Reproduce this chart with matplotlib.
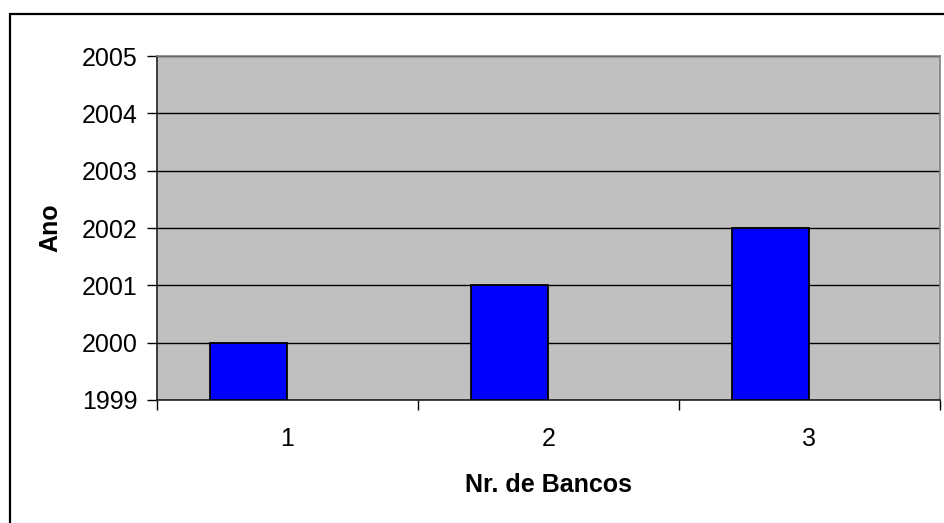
import matplotlib
matplotlib.use("Agg")
import matplotlib.pyplot as plt
from matplotlib.patches import Rectangle
import numpy as np

# data
bancos = [1, 2, 3]
anos = [2000, 2001, 2002]
y_ticks = [1999, 2000, 2001, 2002, 2003, 2004, 2005]

plt.rcParams['font.family'] = ['Liberation Sans', 'DejaVu Sans']

fig = plt.figure(figsize=(9.45, 5.23), dpi=100)
ax = fig.add_axes([0.1661, 0.2352, 0.8286, 0.6577])
ax.set_facecolor('#C0C0C0')

x = np.array(bancos, dtype=float)
# bars sit left of the category centre (right edge on the centre)
ax.bar(x, np.array(anos) - 1999, bottom=1999, width=-0.295, align='edge',
       color='#0000FF', edgecolor='black', linewidth=1.3, zorder=3)

ax.set_xlim(0.5, 3.5)
ax.set_ylim(1999, 2005)
ax.set_yticks(y_ticks)
ax.yaxis.grid(True, color='black', linewidth=1.0, zorder=1)
ax.set_axisbelow(True)

# tick marks on category boundaries, labels at centres
ax.set_xticks([0.5, 1.5, 2.5, 3.5])
ax.set_xticklabels([])
ax.set_xticks(x, minor=True)
ax.set_xticklabels([str(b) for b in bancos], minor=True)
ax.tick_params(axis='x', which='major', length=7, width=1, color='black')
ax.tick_params(axis='x', which='minor', length=0, pad=19.5, labelsize=18)
ax.tick_params(axis='y', length=7, width=1, pad=7, labelsize=18)

for s in ['top', 'right']:
    ax.spines[s].set_color('#808080')
    ax.spines[s].set_linewidth(1.2)
for s in ['left', 'bottom']:
    ax.spines[s].set_color('#202020')
    ax.spines[s].set_linewidth(1.2)

ax.set_xlabel('Nr. de Bancos', fontsize=18, fontweight='bold')
ax.xaxis.set_label_coords(0.5, -0.247)
ax.xaxis.label.set_va('center')
ax.set_ylabel('Ano', fontsize=18, fontweight='bold')
ax.yaxis.set_label_coords(-0.1367, 0.5)
ax.yaxis.label.set_va('center')

# chart frame, runs off the right and bottom edges
fig.patches.append(Rectangle((0.0105, -0.1), 1.2, 1.0732, transform=fig.transFigure,
                             fill=False, edgecolor='black', linewidth=1.6, clip_on=False))

fig.savefig('out.png', dpi=100)
